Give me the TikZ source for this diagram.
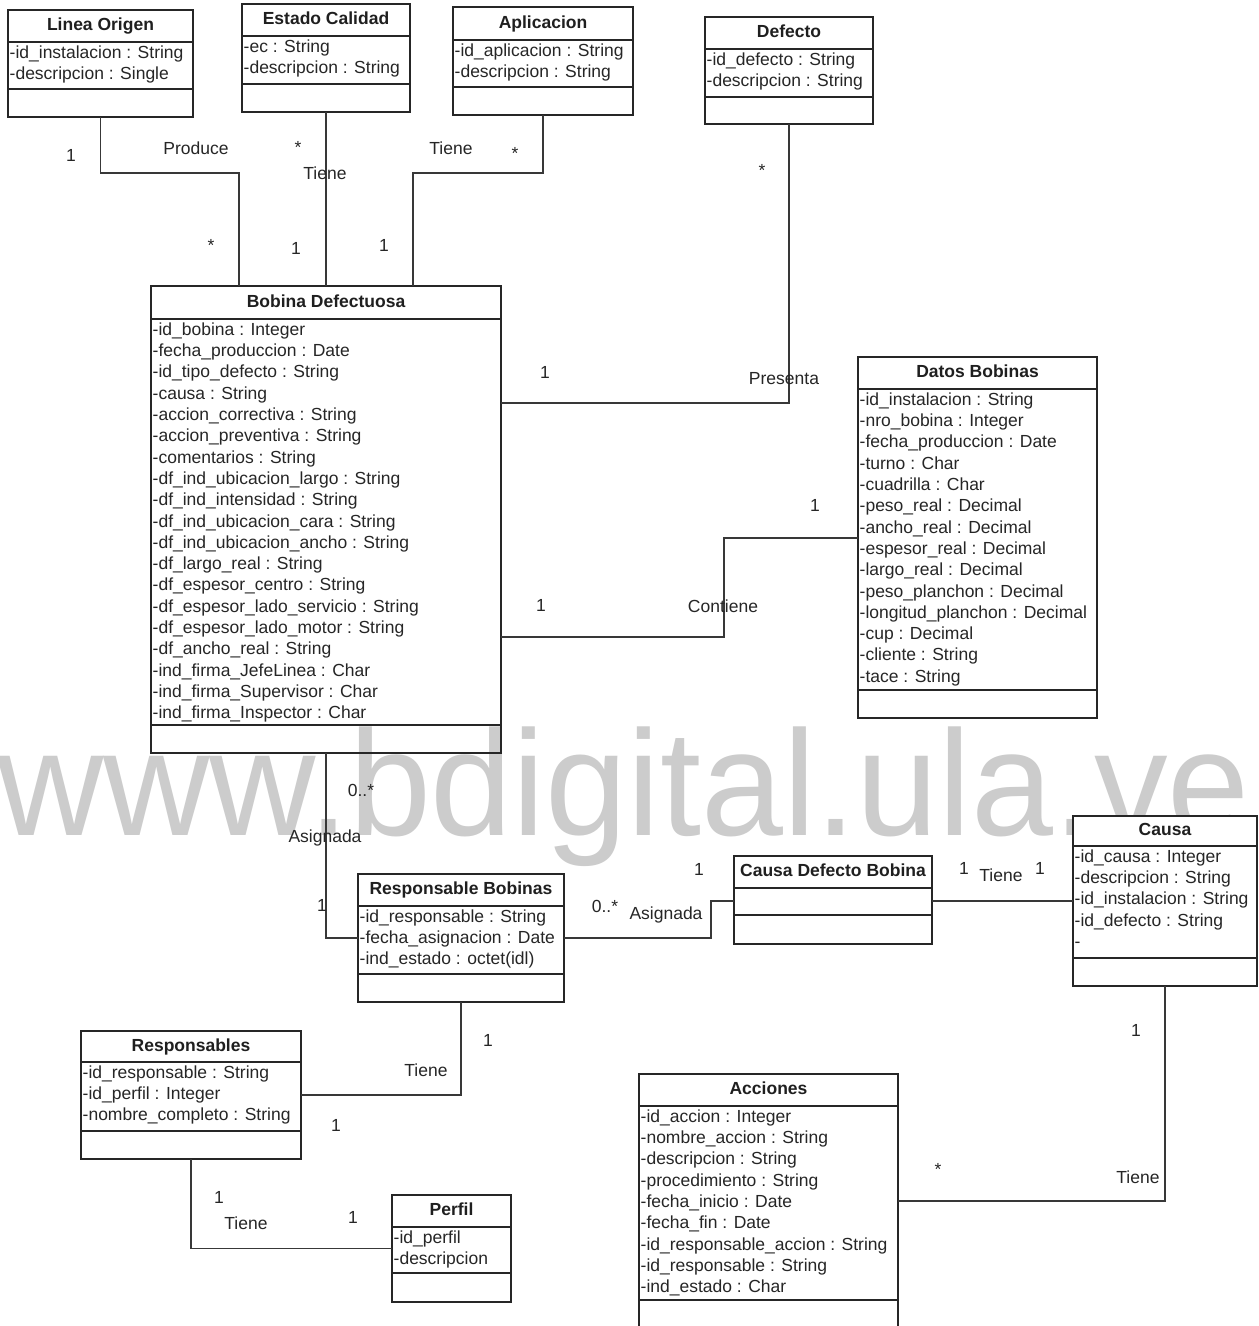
\documentclass[tikz,border=0pt]{standalone}
\usepackage{fontspec}
\setmainfont{Liberation Sans}
\usetikzlibrary{calc}

\tikzset{
  classbox/.style={draw=black!85, line width=1.6pt, rectangle, inner sep=0pt, outer sep=0pt, anchor=north west},
  comp/.style={draw=black!85, line width=1.6pt},
  ctitle/.style={font=\fontsize{17.5}{21}\selectfont\bfseries, text=black!88, inner sep=0pt, text height=12.5pt, text depth=3.5pt},
  cattr/.style={font=\fontsize{17.5}{21.3}\selectfont, text=black!85, inner sep=0pt, align=left, anchor=north west},
  assoc/.style={draw=black!78, line width=1.5pt},
  lbl/.style={font=\fontsize{17.5}{21}\selectfont, text=black!85, inner sep=0pt, text height=12.5pt, text depth=0pt},
  wmark/.style={font=\fontsize{150}{150}\selectfont, text=black!20, inner sep=0pt, anchor=base west}
}

% name, x1, y1, x2, y2, first separator, second separator, title, attributes
\newcommand\umlclass[9]{%
  \node[classbox, minimum width={(#4)-(#2)}, minimum height={(#5)-(#3)}] (#1) at (#2,#3) {};
  \draw[comp] (#2,#6) -- (#4,#6) (#2,#7) -- (#4,#7);
  \node[ctitle] (#1-t) at ({(#2+#4)/2},{(#3+#6)/2}) {#8};
  \node[cattr] (#1-a) at ({#2+1.5},{#6+3.5}) {#9};
}

\begin{document}
\begin{tikzpicture}[x=1pt,y=-1pt]
\useasboundingbox (0,0) rectangle (1259,1326);
\clip (0,0) rectangle (1259,1326);
\fill[white] (0,0) rectangle (1259,1326);

% watermark
\node[wmark] (wm) at (-3,835) {\scalebox{0.982}[1]{www.bdigital.ula.ve}};

% classes
\umlclass{lin}{8}{10}{193}{117}{42}{89}{Linea Origen}
  {-id\_instalacion : String\\-descripcion : Single}
\umlclass{est}{242}{4}{410}{112}{36}{84}{Estado Calidad}
  {-ec : String\\-descripcion : String}
\umlclass{apl}{453}{7}{633}{115}{40}{87}{Aplicacion}
  {-id\_aplicacion : String\\-descripcion : String}
\umlclass{def}{705}{17}{873}{124}{49}{97}{Defecto}
  {-id\_defecto : String\\-descripcion : String}
\umlclass{bob}{151}{286}{501}{753}{319}{725}{Bobina Defectuosa}
  {-id\_bobina : Integer\\-fecha\_produccion : Date\\-id\_tipo\_defecto : String\\-causa : String\\
   -accion\_correctiva : String\\-accion\_preventiva : String\\-comentarios : String\\
   -df\_ind\_ubicacion\_largo : String\\-df\_ind\_intensidad : String\\-df\_ind\_ubicacion\_cara : String\\
   -df\_ind\_ubicacion\_ancho : String\\-df\_largo\_real : String\\-df\_espesor\_centro : String\\
   -df\_espesor\_lado\_servicio : String\\-df\_espesor\_lado\_motor : String\\-df\_ancho\_real : String\\
   -ind\_firma\_JefeLinea : Char\\-ind\_firma\_Supervisor : Char\\-ind\_firma\_Inspector : Char}
\umlclass{dat}{858}{357}{1097}{718}{389}{690}{Datos Bobinas}
  {-id\_instalacion : String\\-nro\_bobina : Integer\\-fecha\_produccion : Date\\-turno : Char\\
   -cuadrilla : Char\\-peso\_real : Decimal\\-ancho\_real : Decimal\\-espesor\_real : Decimal\\
   -largo\_real : Decimal\\-peso\_planchon : Decimal\\-longitud\_planchon : Decimal\\-cup : Decimal\\
   -cliente : String\\-tace : String}
\umlclass{rb}{358}{874}{564}{1002}{906}{974}{Responsable Bobinas}
  {-id\_responsable : String\\-fecha\_asignacion : Date\\-ind\_estado : octet(idl)}
\umlclass{cdb}{734}{856}{932}{944}{888}{915}{Causa Defecto Bobina}{}
\fill[white] (1073,816) rectangle (1257,986);
\umlclass{cau}{1073}{816}{1257}{986}{846}{958}{Causa}
  {-id\_causa : Integer\\-descripcion : String\\-id\_instalacion : String\\-id\_defecto : String\\-}
\umlclass{acc}{639}{1074}{898}{1330}{1106}{1300}{Acciones}
  {-id\_accion : Integer\\-nombre\_accion : String\\-descripcion : String\\-procedimiento : String\\
   -fecha\_inicio : Date\\-fecha\_fin : Date\\-id\_responsable\_accion : String\\-id\_responsable : String\\
   -ind\_estado : Char}
\umlclass{res}{81}{1031}{301}{1159}{1062}{1131}{Responsables}
  {-id\_responsable : String\\-id\_perfil : Integer\\-nombre\_completo : String}
\umlclass{per}{392}{1195}{511}{1302}{1227}{1273}{Perfil}
  {-id\_perfil\\-descripcion}

% bends of the associations
\coordinate (b1) at (239,173);
\coordinate (b2) at (413,173);
\coordinate (b3) at (0,403);
\coordinate (b4) at (724,538);
\coordinate (b5) at (0,637);
\coordinate (b6) at (711,901);
\coordinate (b7) at (0,1201);

% associations
\draw[assoc] (lin.south) |- (b1) -- (b1 |- bob.north);
\draw[assoc] (est.south) -- (est.south |- bob.north);
\draw[assoc] (apl.south) |- (b2) -- (b2 |- bob.north);
\draw[assoc] (def.south) |- (bob.east |- b3);
\draw[assoc] (bob.east |- b5) -| (b4) -- (dat.west |- b4);
\draw[assoc] (bob.south) |- (rb.west);
\draw[assoc] (rb.east) -| (b6) -- (cdb.west |- b6);
\draw[assoc] (cdb.east |- b6) -- (cau.west |- b6);
\draw[assoc] (cau.south) |- (acc.east |- b7);
\draw[assoc] (rb.south) |- (res.east);
\draw[assoc] (res.south) |- (per.west);

% role names and multiplicities
\node[lbl] (m1)  at (71,155)  {1};
\node[lbl] (n1)  at (196,148) {Produce};
\node[lbl] (m2)  at (211,245) {*};
\node[lbl] (m3)  at (298,147) {*};
\node[lbl] (n2)  at (325,173) {Tiene};
\node[lbl] (m4)  at (296,248) {1};
\node[lbl] (n3)  at (451,148) {Tiene};
\node[lbl] (m5)  at (515,153) {*};
\node[lbl] (m6)  at (384,245) {1};
\node[lbl] (m7)  at (762,170) {*};
\node[lbl] (m8)  at (545,372) {1};
\node[lbl] (n4)  at (784,378) {Presenta};
\node[lbl] (m9)  at (815,505) {1};
\node[lbl] (m10) at (541,605) {1};
\node[lbl] (n5)  at (723,606) {Contiene};
\node[lbl] (m11) at (361,790) {0..*};
\node[lbl] (n6)  at (325,836) {Asignada};
\node[lbl] (m12) at (322,905) {1};
\node[lbl] (m13) at (605,906) {0..*};
\node[lbl] (n7)  at (666,913) {Asignada};
\node[lbl] (m14) at (699,869) {1};
\node[lbl] (m15) at (964,868) {1};
\node[lbl] (n8)  at (1001,875) {Tiene};
\node[lbl] (m16) at (1040,868) {1};
\node[lbl] (m17) at (1136,1030) {1};
\node[lbl] (n9)  at (1138,1177) {Tiene};
\node[lbl] (m18) at (938,1169) {*};
\node[lbl] (m19) at (488,1040) {1};
\node[lbl] (n10) at (426,1070) {Tiene};
\node[lbl] (m20) at (336,1125) {1};
\node[lbl] (m21) at (219,1197) {1};
\node[lbl] (n11) at (246,1223) {Tiene};
\node[lbl] (m22) at (353,1217) {1};
\end{tikzpicture}
\end{document}
